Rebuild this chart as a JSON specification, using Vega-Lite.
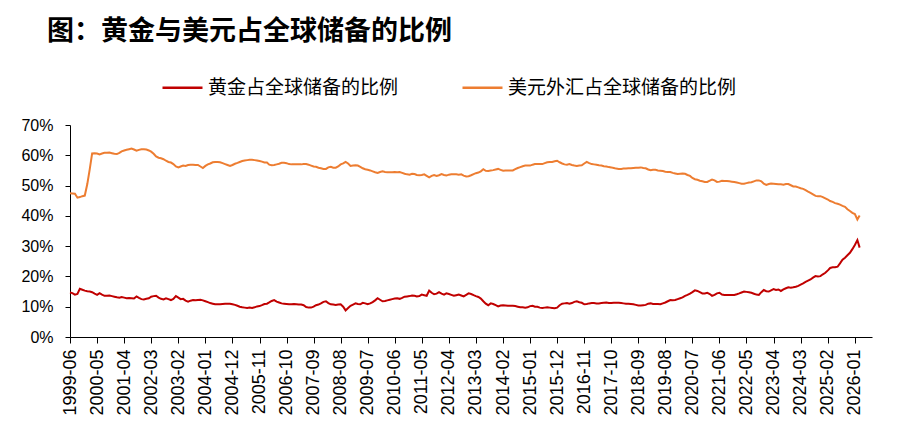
{
  "$schema": "https://vega.github.io/schema/vega-lite/v6.json",
  "width": 802,
  "height": 212,
  "autosize": "none",
  "padding": {"left": 70, "top": 125, "right": 35, "bottom": 103},
  "background": "white",
  "config": {"view": {"stroke": null}},
  "title": {
    "text": "图：黄金与美元占全球储备的比例",
    "anchor": "start",
    "frame": "group",
    "font": "Noto Sans CJK SC",
    "fontSize": 27,
    "fontWeight": "bold",
    "color": "#000000",
    "dx": -23,
    "offset": 20
  },
  "data": {
    "values": [
      {"d": "1999-06", "g": 14.7, "u": 47.5},
      {"d": "1999-07", "g": 14.5, "u": 47.4},
      {"d": "1999-08", "g": 14.0, "u": 47.3},
      {"d": "1999-09", "g": 14.2, "u": 46.0},
      {"d": "1999-10", "g": 15.9, "u": 46.2},
      {"d": "1999-11", "g": 15.6, "u": 46.5},
      {"d": "1999-12", "g": 15.3, "u": 46.7},
      {"d": "2000-01", "g": 15.1, "u": 50.5},
      {"d": "2000-02", "g": 15.0, "u": 55.5},
      {"d": "2000-03", "g": 14.8, "u": 60.6},
      {"d": "2000-04", "g": 14.3, "u": 60.7},
      {"d": "2000-05", "g": 13.9, "u": 60.6},
      {"d": "2000-06", "g": 14.5, "u": 60.3},
      {"d": "2000-07", "g": 14.0, "u": 60.6},
      {"d": "2000-08", "g": 13.6, "u": 60.8},
      {"d": "2000-09", "g": 13.6, "u": 60.8},
      {"d": "2000-10", "g": 13.7, "u": 60.9},
      {"d": "2000-11", "g": 13.5, "u": 60.7},
      {"d": "2000-12", "g": 13.3, "u": 60.5},
      {"d": "2001-01", "g": 13.1, "u": 60.4},
      {"d": "2001-02", "g": 13.0, "u": 60.8},
      {"d": "2001-03", "g": 13.2, "u": 61.3},
      {"d": "2001-04", "g": 13.0, "u": 61.6},
      {"d": "2001-05", "g": 12.8, "u": 61.8},
      {"d": "2001-06", "g": 12.9, "u": 62.0},
      {"d": "2001-07", "g": 12.8, "u": 62.2},
      {"d": "2001-08", "g": 12.7, "u": 61.9},
      {"d": "2001-09", "g": 13.4, "u": 61.5},
      {"d": "2001-10", "g": 12.9, "u": 61.8},
      {"d": "2001-11", "g": 12.5, "u": 62.0},
      {"d": "2001-12", "g": 12.4, "u": 62.0},
      {"d": "2002-01", "g": 12.6, "u": 61.9},
      {"d": "2002-02", "g": 12.8, "u": 61.6},
      {"d": "2002-03", "g": 13.3, "u": 61.2},
      {"d": "2002-04", "g": 13.5, "u": 60.5},
      {"d": "2002-05", "g": 13.6, "u": 59.6},
      {"d": "2002-06", "g": 13.0, "u": 59.2},
      {"d": "2002-07", "g": 12.6, "u": 59.0},
      {"d": "2002-08", "g": 12.4, "u": 58.7},
      {"d": "2002-09", "g": 12.8, "u": 58.2},
      {"d": "2002-10", "g": 12.5, "u": 57.8},
      {"d": "2002-11", "g": 12.2, "u": 57.6},
      {"d": "2002-12", "g": 12.6, "u": 57.1},
      {"d": "2003-01", "g": 13.5, "u": 56.3},
      {"d": "2003-02", "g": 13.0, "u": 56.0},
      {"d": "2003-03", "g": 12.5, "u": 56.3},
      {"d": "2003-04", "g": 12.6, "u": 56.6},
      {"d": "2003-05", "g": 12.0, "u": 56.5},
      {"d": "2003-06", "g": 11.7, "u": 56.8},
      {"d": "2003-07", "g": 12.0, "u": 56.9},
      {"d": "2003-08", "g": 12.2, "u": 56.9},
      {"d": "2003-09", "g": 12.1, "u": 56.8},
      {"d": "2003-10", "g": 12.2, "u": 56.8},
      {"d": "2003-11", "g": 12.3, "u": 56.3},
      {"d": "2003-12", "g": 12.1, "u": 55.8},
      {"d": "2004-01", "g": 11.8, "u": 56.5},
      {"d": "2004-02", "g": 11.5, "u": 57.0},
      {"d": "2004-03", "g": 11.2, "u": 57.3},
      {"d": "2004-04", "g": 11.0, "u": 57.7},
      {"d": "2004-05", "g": 10.8, "u": 57.8},
      {"d": "2004-06", "g": 10.8, "u": 57.8},
      {"d": "2004-07", "g": 10.8, "u": 57.7},
      {"d": "2004-08", "g": 10.9, "u": 57.4},
      {"d": "2004-09", "g": 11.0, "u": 57.1},
      {"d": "2004-10", "g": 11.0, "u": 56.8},
      {"d": "2004-11", "g": 11.0, "u": 56.5},
      {"d": "2004-12", "g": 10.8, "u": 56.8},
      {"d": "2005-01", "g": 10.6, "u": 57.2},
      {"d": "2005-02", "g": 10.3, "u": 57.5},
      {"d": "2005-03", "g": 10.0, "u": 57.8},
      {"d": "2005-04", "g": 9.8, "u": 58.1},
      {"d": "2005-05", "g": 9.7, "u": 58.3},
      {"d": "2005-06", "g": 9.6, "u": 58.4},
      {"d": "2005-07", "g": 9.7, "u": 58.5},
      {"d": "2005-08", "g": 9.6, "u": 58.5},
      {"d": "2005-09", "g": 9.8, "u": 58.4},
      {"d": "2005-10", "g": 10.1, "u": 58.3},
      {"d": "2005-11", "g": 10.2, "u": 58.1},
      {"d": "2005-12", "g": 10.5, "u": 57.9},
      {"d": "2006-01", "g": 10.9, "u": 57.6},
      {"d": "2006-02", "g": 11.0, "u": 57.6},
      {"d": "2006-03", "g": 11.4, "u": 56.9},
      {"d": "2006-04", "g": 11.9, "u": 56.7},
      {"d": "2006-05", "g": 12.2, "u": 56.8},
      {"d": "2006-06", "g": 11.7, "u": 57.0},
      {"d": "2006-07", "g": 11.4, "u": 57.2},
      {"d": "2006-08", "g": 11.1, "u": 57.5},
      {"d": "2006-09", "g": 11.0, "u": 57.5},
      {"d": "2006-10", "g": 10.9, "u": 57.4},
      {"d": "2006-11", "g": 10.8, "u": 57.1},
      {"d": "2006-12", "g": 10.8, "u": 57.0},
      {"d": "2007-01", "g": 10.9, "u": 57.0},
      {"d": "2007-02", "g": 10.8, "u": 57.0},
      {"d": "2007-03", "g": 10.7, "u": 57.0},
      {"d": "2007-04", "g": 10.7, "u": 57.0},
      {"d": "2007-05", "g": 10.5, "u": 57.1},
      {"d": "2007-06", "g": 9.9, "u": 57.1},
      {"d": "2007-07", "g": 9.7, "u": 56.9},
      {"d": "2007-08", "g": 9.7, "u": 56.6},
      {"d": "2007-09", "g": 10.0, "u": 56.3},
      {"d": "2007-10", "g": 10.5, "u": 56.2},
      {"d": "2007-11", "g": 10.7, "u": 55.9},
      {"d": "2007-12", "g": 11.1, "u": 55.7},
      {"d": "2008-01", "g": 11.6, "u": 55.5},
      {"d": "2008-02", "g": 11.8, "u": 55.5},
      {"d": "2008-03", "g": 11.2, "u": 56.0},
      {"d": "2008-04", "g": 10.8, "u": 56.2},
      {"d": "2008-05", "g": 10.7, "u": 55.9},
      {"d": "2008-06", "g": 10.6, "u": 55.9},
      {"d": "2008-07", "g": 10.7, "u": 56.3},
      {"d": "2008-08", "g": 10.8, "u": 57.0},
      {"d": "2008-09", "g": 10.0, "u": 57.3},
      {"d": "2008-10", "g": 8.8, "u": 57.8},
      {"d": "2008-11", "g": 9.6, "u": 57.3},
      {"d": "2008-12", "g": 10.3, "u": 56.5},
      {"d": "2009-01", "g": 10.7, "u": 56.6},
      {"d": "2009-02", "g": 11.1, "u": 56.7},
      {"d": "2009-03", "g": 10.9, "u": 56.6},
      {"d": "2009-04", "g": 10.8, "u": 56.2},
      {"d": "2009-05", "g": 11.3, "u": 55.7},
      {"d": "2009-06", "g": 11.1, "u": 55.4},
      {"d": "2009-07", "g": 10.8, "u": 55.2},
      {"d": "2009-08", "g": 11.1, "u": 55.0},
      {"d": "2009-09", "g": 11.5, "u": 54.7},
      {"d": "2009-10", "g": 12.1, "u": 54.4},
      {"d": "2009-11", "g": 12.8, "u": 54.2},
      {"d": "2009-12", "g": 12.3, "u": 54.5},
      {"d": "2010-01", "g": 11.8, "u": 54.7},
      {"d": "2010-02", "g": 11.9, "u": 54.5},
      {"d": "2010-03", "g": 12.1, "u": 54.4},
      {"d": "2010-04", "g": 12.3, "u": 54.4},
      {"d": "2010-05", "g": 12.5, "u": 54.4},
      {"d": "2010-06", "g": 12.7, "u": 54.5},
      {"d": "2010-07", "g": 12.8, "u": 54.4},
      {"d": "2010-08", "g": 12.6, "u": 54.5},
      {"d": "2010-09", "g": 12.9, "u": 54.2},
      {"d": "2010-10", "g": 13.3, "u": 53.9},
      {"d": "2010-11", "g": 13.4, "u": 53.7},
      {"d": "2010-12", "g": 13.5, "u": 53.6},
      {"d": "2011-01", "g": 13.7, "u": 53.9},
      {"d": "2011-02", "g": 13.6, "u": 53.8},
      {"d": "2011-03", "g": 13.4, "u": 53.5},
      {"d": "2011-04", "g": 13.5, "u": 53.4},
      {"d": "2011-05", "g": 14.0, "u": 53.5},
      {"d": "2011-06", "g": 13.8, "u": 53.7},
      {"d": "2011-07", "g": 13.6, "u": 53.2},
      {"d": "2011-08", "g": 15.3, "u": 52.7},
      {"d": "2011-09", "g": 14.6, "u": 53.2},
      {"d": "2011-10", "g": 14.1, "u": 53.5},
      {"d": "2011-11", "g": 14.3, "u": 53.2},
      {"d": "2011-12", "g": 14.8, "u": 53.4},
      {"d": "2012-01", "g": 14.3, "u": 53.8},
      {"d": "2012-02", "g": 14.0, "u": 53.5},
      {"d": "2012-03", "g": 14.4, "u": 53.3},
      {"d": "2012-04", "g": 14.2, "u": 53.6},
      {"d": "2012-05", "g": 13.9, "u": 53.7},
      {"d": "2012-06", "g": 13.6, "u": 53.7},
      {"d": "2012-07", "g": 13.8, "u": 53.7},
      {"d": "2012-08", "g": 14.0, "u": 53.6},
      {"d": "2012-09", "g": 13.7, "u": 53.7},
      {"d": "2012-10", "g": 13.4, "u": 53.3},
      {"d": "2012-11", "g": 13.9, "u": 53.0},
      {"d": "2012-12", "g": 14.4, "u": 53.1},
      {"d": "2013-01", "g": 14.2, "u": 53.4},
      {"d": "2013-02", "g": 13.8, "u": 53.8},
      {"d": "2013-03", "g": 13.5, "u": 54.1},
      {"d": "2013-04", "g": 13.2, "u": 54.3},
      {"d": "2013-05", "g": 12.7, "u": 54.7},
      {"d": "2013-06", "g": 11.8, "u": 55.4},
      {"d": "2013-07", "g": 11.0, "u": 54.9},
      {"d": "2013-08", "g": 10.5, "u": 54.8},
      {"d": "2013-09", "g": 11.1, "u": 55.0},
      {"d": "2013-10", "g": 10.9, "u": 55.1},
      {"d": "2013-11", "g": 10.5, "u": 55.3},
      {"d": "2013-12", "g": 10.1, "u": 55.5},
      {"d": "2014-01", "g": 10.4, "u": 55.2},
      {"d": "2014-02", "g": 10.5, "u": 54.9},
      {"d": "2014-03", "g": 10.4, "u": 55.0},
      {"d": "2014-04", "g": 10.3, "u": 55.0},
      {"d": "2014-05", "g": 10.3, "u": 55.0},
      {"d": "2014-06", "g": 10.3, "u": 55.0},
      {"d": "2014-07", "g": 10.2, "u": 55.4},
      {"d": "2014-08", "g": 10.0, "u": 55.8},
      {"d": "2014-09", "g": 9.8, "u": 56.1},
      {"d": "2014-10", "g": 9.8, "u": 56.4},
      {"d": "2014-11", "g": 9.7, "u": 56.6},
      {"d": "2014-12", "g": 9.8, "u": 56.6},
      {"d": "2015-01", "g": 10.2, "u": 56.6},
      {"d": "2015-02", "g": 10.3, "u": 56.9},
      {"d": "2015-03", "g": 10.0, "u": 57.1},
      {"d": "2015-04", "g": 10.0, "u": 57.1},
      {"d": "2015-05", "g": 9.7, "u": 57.1},
      {"d": "2015-06", "g": 9.6, "u": 57.1},
      {"d": "2015-07", "g": 9.7, "u": 57.4},
      {"d": "2015-08", "g": 9.8, "u": 57.7},
      {"d": "2015-09", "g": 9.7, "u": 57.8},
      {"d": "2015-10", "g": 9.6, "u": 57.8},
      {"d": "2015-11", "g": 9.5, "u": 58.0},
      {"d": "2015-12", "g": 9.7, "u": 58.2},
      {"d": "2016-01", "g": 10.5, "u": 57.7},
      {"d": "2016-02", "g": 11.0, "u": 57.3},
      {"d": "2016-03", "g": 11.1, "u": 57.0},
      {"d": "2016-04", "g": 11.2, "u": 56.9},
      {"d": "2016-05", "g": 11.0, "u": 57.1},
      {"d": "2016-06", "g": 11.2, "u": 56.8},
      {"d": "2016-07", "g": 11.6, "u": 56.6},
      {"d": "2016-08", "g": 11.8, "u": 56.5},
      {"d": "2016-09", "g": 11.5, "u": 56.6},
      {"d": "2016-10", "g": 11.3, "u": 56.7},
      {"d": "2016-11", "g": 10.8, "u": 57.3},
      {"d": "2016-12", "g": 10.9, "u": 57.8},
      {"d": "2017-01", "g": 11.1, "u": 57.4},
      {"d": "2017-02", "g": 11.2, "u": 57.1},
      {"d": "2017-03", "g": 11.2, "u": 57.0},
      {"d": "2017-04", "g": 11.1, "u": 56.9},
      {"d": "2017-05", "g": 11.1, "u": 56.7},
      {"d": "2017-06", "g": 11.2, "u": 56.6},
      {"d": "2017-07", "g": 11.3, "u": 56.4},
      {"d": "2017-08", "g": 11.4, "u": 56.3},
      {"d": "2017-09", "g": 11.2, "u": 56.1},
      {"d": "2017-10", "g": 11.2, "u": 56.0},
      {"d": "2017-11", "g": 11.3, "u": 55.8},
      {"d": "2017-12", "g": 11.3, "u": 55.6},
      {"d": "2018-01", "g": 11.3, "u": 55.5},
      {"d": "2018-02", "g": 11.2, "u": 55.5},
      {"d": "2018-03", "g": 11.1, "u": 55.6},
      {"d": "2018-04", "g": 11.0, "u": 55.6},
      {"d": "2018-05", "g": 11.0, "u": 55.7},
      {"d": "2018-06", "g": 10.9, "u": 55.7},
      {"d": "2018-07", "g": 10.8, "u": 55.8},
      {"d": "2018-08", "g": 10.6, "u": 55.9},
      {"d": "2018-09", "g": 10.4, "u": 55.9},
      {"d": "2018-10", "g": 10.4, "u": 56.0},
      {"d": "2018-11", "g": 10.5, "u": 55.8},
      {"d": "2018-12", "g": 10.6, "u": 55.7},
      {"d": "2019-01", "g": 11.0, "u": 55.3},
      {"d": "2019-02", "g": 11.1, "u": 55.1},
      {"d": "2019-03", "g": 10.9, "u": 55.2},
      {"d": "2019-04", "g": 10.9, "u": 55.2},
      {"d": "2019-05", "g": 10.9, "u": 55.0},
      {"d": "2019-06", "g": 10.8, "u": 54.9},
      {"d": "2019-07", "g": 11.1, "u": 54.8},
      {"d": "2019-08", "g": 11.4, "u": 54.6},
      {"d": "2019-09", "g": 11.8, "u": 54.5},
      {"d": "2019-10", "g": 12.2, "u": 54.5},
      {"d": "2019-11", "g": 12.1, "u": 54.2},
      {"d": "2019-12", "g": 12.2, "u": 54.0},
      {"d": "2020-01", "g": 12.5, "u": 53.8},
      {"d": "2020-02", "g": 12.8, "u": 53.9},
      {"d": "2020-03", "g": 13.1, "u": 54.0},
      {"d": "2020-04", "g": 13.6, "u": 53.9},
      {"d": "2020-05", "g": 13.9, "u": 53.5},
      {"d": "2020-06", "g": 14.3, "u": 53.2},
      {"d": "2020-07", "g": 14.8, "u": 52.5},
      {"d": "2020-08", "g": 15.4, "u": 52.1},
      {"d": "2020-09", "g": 15.2, "u": 51.9},
      {"d": "2020-10", "g": 14.8, "u": 51.6},
      {"d": "2020-11", "g": 14.4, "u": 51.4},
      {"d": "2020-12", "g": 14.4, "u": 51.2},
      {"d": "2021-01", "g": 14.6, "u": 51.2},
      {"d": "2021-02", "g": 14.2, "u": 51.6},
      {"d": "2021-03", "g": 13.6, "u": 52.0},
      {"d": "2021-04", "g": 13.9, "u": 51.7},
      {"d": "2021-05", "g": 14.4, "u": 51.2},
      {"d": "2021-06", "g": 14.6, "u": 51.3},
      {"d": "2021-07", "g": 14.0, "u": 51.6},
      {"d": "2021-08", "g": 13.9, "u": 51.5},
      {"d": "2021-09", "g": 13.9, "u": 51.5},
      {"d": "2021-10", "g": 13.9, "u": 51.4},
      {"d": "2021-11", "g": 13.9, "u": 51.3},
      {"d": "2021-12", "g": 13.9, "u": 51.2},
      {"d": "2022-01", "g": 14.1, "u": 51.0},
      {"d": "2022-02", "g": 14.4, "u": 50.8},
      {"d": "2022-03", "g": 14.7, "u": 50.6},
      {"d": "2022-04", "g": 15.0, "u": 50.6},
      {"d": "2022-05", "g": 14.9, "u": 50.8},
      {"d": "2022-06", "g": 14.8, "u": 51.0},
      {"d": "2022-07", "g": 14.6, "u": 51.1},
      {"d": "2022-08", "g": 14.3, "u": 51.4},
      {"d": "2022-09", "g": 14.0, "u": 51.7},
      {"d": "2022-10", "g": 13.9, "u": 51.7},
      {"d": "2022-11", "g": 14.8, "u": 51.4},
      {"d": "2022-12", "g": 15.5, "u": 50.6},
      {"d": "2023-01", "g": 15.1, "u": 50.2},
      {"d": "2023-02", "g": 15.0, "u": 50.5},
      {"d": "2023-03", "g": 15.4, "u": 50.7},
      {"d": "2023-04", "g": 15.8, "u": 50.6},
      {"d": "2023-05", "g": 15.5, "u": 50.5},
      {"d": "2023-06", "g": 15.7, "u": 50.4},
      {"d": "2023-07", "g": 15.2, "u": 50.4},
      {"d": "2023-08", "g": 15.7, "u": 50.3},
      {"d": "2023-09", "g": 16.1, "u": 50.5},
      {"d": "2023-10", "g": 16.4, "u": 50.5},
      {"d": "2023-11", "g": 16.3, "u": 50.1},
      {"d": "2023-12", "g": 16.4, "u": 49.7},
      {"d": "2024-01", "g": 16.6, "u": 49.7},
      {"d": "2024-02", "g": 16.9, "u": 49.4},
      {"d": "2024-03", "g": 17.3, "u": 49.1},
      {"d": "2024-04", "g": 17.7, "u": 48.9},
      {"d": "2024-05", "g": 18.2, "u": 48.5},
      {"d": "2024-06", "g": 18.6, "u": 48.0},
      {"d": "2024-07", "g": 19.0, "u": 47.6},
      {"d": "2024-08", "g": 19.6, "u": 47.1},
      {"d": "2024-09", "g": 20.1, "u": 46.6},
      {"d": "2024-10", "g": 20.0, "u": 46.5},
      {"d": "2024-11", "g": 20.1, "u": 46.5},
      {"d": "2024-12", "g": 20.7, "u": 46.2},
      {"d": "2025-01", "g": 21.2, "u": 45.8},
      {"d": "2025-02", "g": 22.0, "u": 45.4},
      {"d": "2025-03", "g": 22.8, "u": 44.9},
      {"d": "2025-04", "g": 23.0, "u": 44.6},
      {"d": "2025-05", "g": 23.0, "u": 44.2},
      {"d": "2025-06", "g": 23.2, "u": 44.0},
      {"d": "2025-07", "g": 24.3, "u": 43.7},
      {"d": "2025-08", "g": 25.5, "u": 43.3},
      {"d": "2025-09", "g": 26.2, "u": 43.0},
      {"d": "2025-10", "g": 27.0, "u": 42.2},
      {"d": "2025-11", "g": 27.8, "u": 41.6},
      {"d": "2025-12", "g": 29.0, "u": 41.0},
      {"d": "2026-01", "g": 30.4, "u": 40.6},
      {"d": "2026-02", "g": 32.0, "u": 38.8},
      {"d": "2026-03", "g": 29.5, "u": 40.1}
    ]
  },
  "transform": [{"fold": ["g", "u"], "as": ["k", "v"]}],
  "mark": {"type": "line", "strokeWidth": 2},
  "encoding": {
    "x": {
      "field": "d",
      "type": "temporal",
      "scale": {
        "type": "utc",
        "domain": [
          {"year": 1999, "month": 6, "utc": true},
          {"year": 2026, "month": 8, "utc": true}
        ]
      },
      "axis": {
        "title": null,
        "grid": false,
        "format": "%Y-%m",
        "values": [
          {"year": 1999, "month": 6, "utc": true},
          {"year": 2000, "month": 5, "utc": true},
          {"year": 2001, "month": 4, "utc": true},
          {"year": 2002, "month": 3, "utc": true},
          {"year": 2003, "month": 2, "utc": true},
          {"year": 2004, "month": 1, "utc": true},
          {"year": 2004, "month": 12, "utc": true},
          {"year": 2005, "month": 11, "utc": true},
          {"year": 2006, "month": 10, "utc": true},
          {"year": 2007, "month": 9, "utc": true},
          {"year": 2008, "month": 8, "utc": true},
          {"year": 2009, "month": 7, "utc": true},
          {"year": 2010, "month": 6, "utc": true},
          {"year": 2011, "month": 5, "utc": true},
          {"year": 2012, "month": 4, "utc": true},
          {"year": 2013, "month": 3, "utc": true},
          {"year": 2014, "month": 2, "utc": true},
          {"year": 2015, "month": 1, "utc": true},
          {"year": 2015, "month": 12, "utc": true},
          {"year": 2016, "month": 11, "utc": true},
          {"year": 2017, "month": 10, "utc": true},
          {"year": 2018, "month": 9, "utc": true},
          {"year": 2019, "month": 8, "utc": true},
          {"year": 2020, "month": 7, "utc": true},
          {"year": 2021, "month": 6, "utc": true},
          {"year": 2022, "month": 5, "utc": true},
          {"year": 2023, "month": 4, "utc": true},
          {"year": 2024, "month": 3, "utc": true},
          {"year": 2025, "month": 2, "utc": true},
          {"year": 2026, "month": 1, "utc": true}
        ],
        "labelAngle": -90,
        "labelFont": "Liberation Sans",
        "labelFontSize": 18,
        "labelColor": "#000000",
        "labelPadding": 6,
        "labelOverlap": false,
        "labelFlush": false,
        "tickColor": "#000000",
        "tickSize": 6,
        "domainColor": "#000000"
      }
    },
    "y": {
      "field": "v",
      "type": "quantitative",
      "scale": {"domain": [0, 70]},
      "axis": {
        "title": null,
        "grid": false,
        "values": [0, 10, 20, 30, 40, 50, 60, 70],
        "labelExpr": "datum.value + '%'",
        "labelFont": "Liberation Sans",
        "labelFontSize": 16,
        "labelColor": "#000000",
        "labelPadding": 12,
        "tickColor": "#000000",
        "tickSize": 5,
        "domainColor": "#000000"
      }
    },
    "color": {
      "field": "k",
      "type": "nominal",
      "scale": {"domain": ["g", "u"], "range": ["#C00000", "#ED7D31"]},
      "legend": {
        "title": null,
        "orient": "none",
        "direction": "horizontal",
        "legendX": 91,
        "legendY": -59,
        "symbolType": "stroke",
        "symbolSize": 1600,
        "symbolStrokeWidth": 2.5,
        "labelFont": "Noto Sans CJK SC",
        "labelFontSize": 19,
        "labelColor": "#000000",
        "labelOffset": 4,
        "labelLimit": 400,
        "columnPadding": 58,
        "labelExpr": "datum.label == 'g' ? '黄金占全球储备的比例' : '美元外汇占全球储备的比例'"
      }
    }
  }
}
